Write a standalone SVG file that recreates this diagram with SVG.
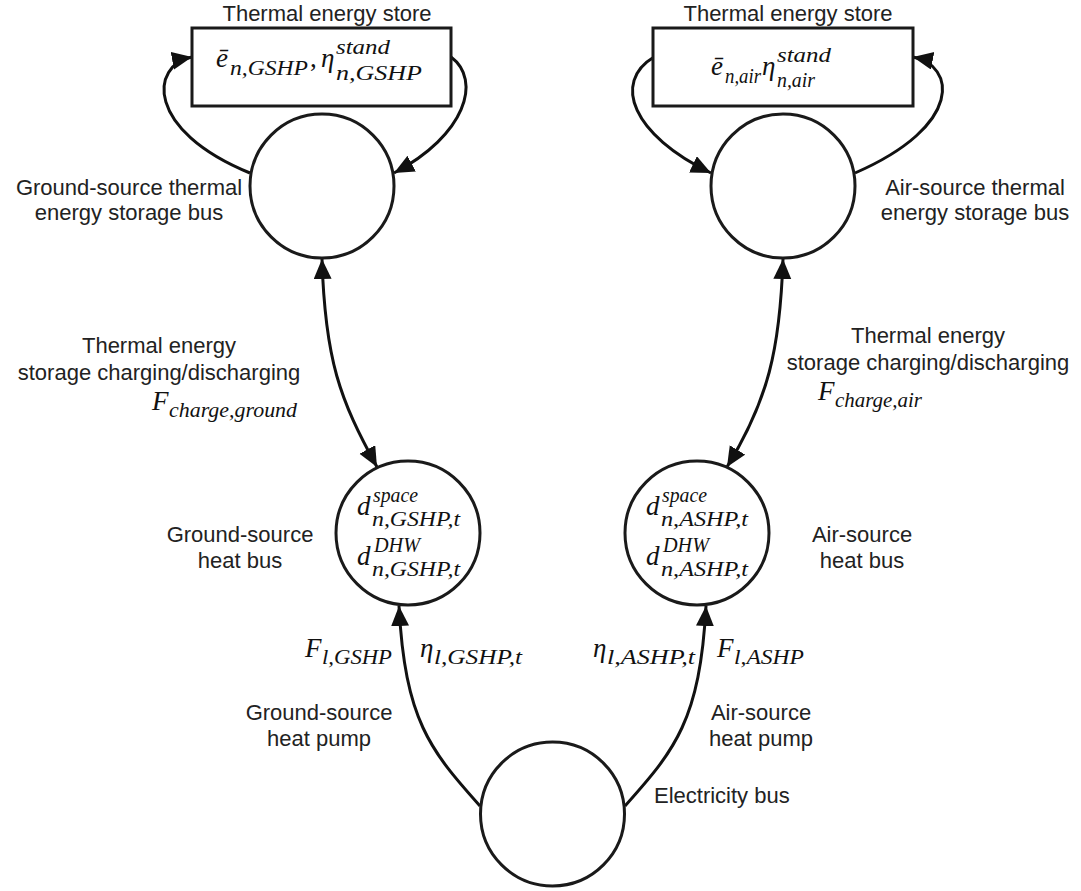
<svg xmlns="http://www.w3.org/2000/svg" width="1081" height="891" viewBox="0 0 1081 891">
  <style>
    .bus { fill: #fff; stroke: #1a1a1a; stroke-width: 3; }
    .box { fill: #fff; stroke: #1a1a1a; stroke-width: 3; }
    .lbl { font-family: "Liberation Sans", Arial, sans-serif; font-size: 22px; fill: #222; text-anchor: middle; }
    .m { font-family: "Liberation Serif", "Times New Roman", serif; font-style: italic; font-size: 27px; fill: #111; }
    .s { font-size: 20px; }
    .up { font-style: normal; }
    .conn { fill: none; stroke: #111; stroke-width: 3; }
  </style>
  <defs>
    <marker id="head" markerUnits="userSpaceOnUse" markerWidth="22" markerHeight="20" refX="20" refY="9" orient="auto-start-reverse" viewBox="0 0 22 20">
      <path d="M0,0 L20,9 L0,18 z" fill="#111"/>
    </marker>
  </defs>

  <!-- connectors -->
  <g id="connectors">
    <!-- ground-source store loop -->
    <path class="conn" d="M 250,173 C 145,130 150,65 192,57" marker-end="url(#head)"/>
    <path class="conn" d="M 451,57 C 482,80 466,135 394,173" marker-end="url(#head)"/>
    <!-- air-source store loop -->
    <path class="conn" d="M 654,57 C 612,82 632,135 711,173" marker-end="url(#head)"/>
    <path class="conn" d="M 855,173 C 965,125 955,65 913,57" marker-end="url(#head)"/>
    <!-- storage charging / discharging -->
    <path class="conn" d="M 322,259 C 325,360 340,400 377,467" marker-start="url(#head)" marker-end="url(#head)"/>
    <path class="conn" d="M 783,259 C 780,350 768,400 727,467" marker-start="url(#head)" marker-end="url(#head)"/>
    <!-- heat pumps -->
    <path class="conn" d="M 480,806 C 430,750 405,720 399,606" marker-end="url(#head)"/>
    <path class="conn" d="M 625,806 C 675,750 700,720 706,606" marker-end="url(#head)"/>
  </g>

  <!-- ground-source thermal energy store -->
  <g id="store-ground">
    <text class="lbl" x="327" y="21">Thermal energy store</text>
    <rect class="box" x="192" y="28" width="259" height="78"/>
    <text class="m">
      <tspan x="216" y="67">ē</tspan>
      <tspan class="s" x="230" y="75" textLength="78" lengthAdjust="spacingAndGlyphs">n,GSHP</tspan>
      <tspan class="up" x="310" y="67">,</tspan>
      <tspan x="321" y="67">η</tspan>
      <tspan class="s" x="336" y="54" textLength="54" lengthAdjust="spacingAndGlyphs">stand</tspan>
      <tspan class="s" x="336" y="80" textLength="86" lengthAdjust="spacingAndGlyphs">n,GSHP</tspan>
    </text>
  </g>

  <!-- air-source thermal energy store -->
  <g id="store-air">
    <text class="lbl" x="788" y="21">Thermal energy store</text>
    <rect class="box" x="653" y="28" width="260" height="78"/>
    <text class="m">
      <tspan x="711" y="75">ē</tspan>
      <tspan class="s" x="725" y="83" textLength="36" lengthAdjust="spacingAndGlyphs">n,air</tspan>
      <tspan x="762" y="75">η</tspan>
      <tspan class="s" x="777" y="62" textLength="54" lengthAdjust="spacingAndGlyphs">stand</tspan>
      <tspan class="s" x="777" y="87" textLength="38" lengthAdjust="spacingAndGlyphs">n,air</tspan>
    </text>
  </g>

  <!-- ground-source thermal energy storage bus -->
  <g id="bus-gs-storage">
    <circle class="bus" cx="322" cy="186" r="72"/>
    <text class="lbl" x="129" y="195">Ground-source thermal</text>
    <text class="lbl" x="129" y="220">energy storage bus</text>
  </g>

  <!-- air-source thermal energy storage bus -->
  <g id="bus-as-storage">
    <circle class="bus" cx="783" cy="186" r="72"/>
    <text class="lbl" x="975" y="195">Air-source thermal</text>
    <text class="lbl" x="975" y="220">energy storage bus</text>
  </g>

  <!-- charging / discharging labels -->
  <g id="label-charge-ground">
    <text class="lbl" x="159" y="353">Thermal energy</text>
    <text class="lbl" x="159" y="380">storage charging/discharging</text>
    <text class="m">
      <tspan x="152" y="410">F</tspan>
      <tspan class="s" x="169" y="417" textLength="128" lengthAdjust="spacingAndGlyphs">charge,ground</tspan>
    </text>
  </g>
  <g id="label-charge-air">
    <text class="lbl" x="928" y="343">Thermal energy</text>
    <text class="lbl" x="928" y="370">storage charging/discharging</text>
    <text class="m">
      <tspan x="818" y="400">F</tspan>
      <tspan class="s" x="835" y="407" textLength="87" lengthAdjust="spacingAndGlyphs">charge,air</tspan>
    </text>
  </g>

  <!-- ground-source heat bus -->
  <g id="bus-gs-heat">
    <circle class="bus" cx="408" cy="533" r="72"/>
    <text class="m">
      <tspan x="357" y="515">d</tspan>
      <tspan class="s" x="373" y="502" textLength="45" lengthAdjust="spacingAndGlyphs">space</tspan>
      <tspan class="s" x="372" y="526" textLength="88" lengthAdjust="spacingAndGlyphs">n,GSHP,t</tspan>
      <tspan x="357" y="565">d</tspan>
      <tspan class="s" x="374" y="552" textLength="46" lengthAdjust="spacingAndGlyphs">DHW</tspan>
      <tspan class="s" x="372" y="576" textLength="88" lengthAdjust="spacingAndGlyphs">n,GSHP,t</tspan>
    </text>
    <text class="lbl" x="240" y="542">Ground-source</text>
    <text class="lbl" x="240" y="568">heat bus</text>
  </g>

  <!-- air-source heat bus -->
  <g id="bus-as-heat">
    <circle class="bus" cx="697" cy="533" r="72"/>
    <text class="m">
      <tspan x="646" y="515">d</tspan>
      <tspan class="s" x="662" y="502" textLength="45" lengthAdjust="spacingAndGlyphs">space</tspan>
      <tspan class="s" x="661" y="526" textLength="87" lengthAdjust="spacingAndGlyphs">n,ASHP,t</tspan>
      <tspan x="646" y="565">d</tspan>
      <tspan class="s" x="663" y="552" textLength="46" lengthAdjust="spacingAndGlyphs">DHW</tspan>
      <tspan class="s" x="661" y="576" textLength="87" lengthAdjust="spacingAndGlyphs">n,ASHP,t</tspan>
    </text>
    <text class="lbl" x="862" y="542">Air-source</text>
    <text class="lbl" x="862" y="568">heat bus</text>
  </g>

  <!-- heat pump labels -->
  <g id="label-gshp">
    <text class="m">
      <tspan x="305" y="657">F</tspan>
      <tspan class="s" x="322" y="664" textLength="70" lengthAdjust="spacingAndGlyphs">l,GSHP</tspan>
      <tspan x="420" y="657">η</tspan>
      <tspan class="s" x="434" y="664" textLength="88" lengthAdjust="spacingAndGlyphs">l,GSHP,t</tspan>
    </text>
    <text class="lbl" x="319" y="720">Ground-source</text>
    <text class="lbl" x="319" y="746">heat pump</text>
  </g>
  <g id="label-ashp">
    <text class="m">
      <tspan x="593" y="657">η</tspan>
      <tspan class="s" x="607" y="664" textLength="88" lengthAdjust="spacingAndGlyphs">l,ASHP,t</tspan>
      <tspan x="717" y="657">F</tspan>
      <tspan class="s" x="734" y="664" textLength="70" lengthAdjust="spacingAndGlyphs">l,ASHP</tspan>
    </text>
    <text class="lbl" x="761" y="720">Air-source</text>
    <text class="lbl" x="761" y="746">heat pump</text>
  </g>

  <!-- electricity bus -->
  <g id="bus-electricity">
    <circle class="bus" cx="552.5" cy="814" r="72"/>
    <text class="lbl" x="654" y="803" style="text-anchor:start">Electricity bus</text>
  </g>
</svg>
